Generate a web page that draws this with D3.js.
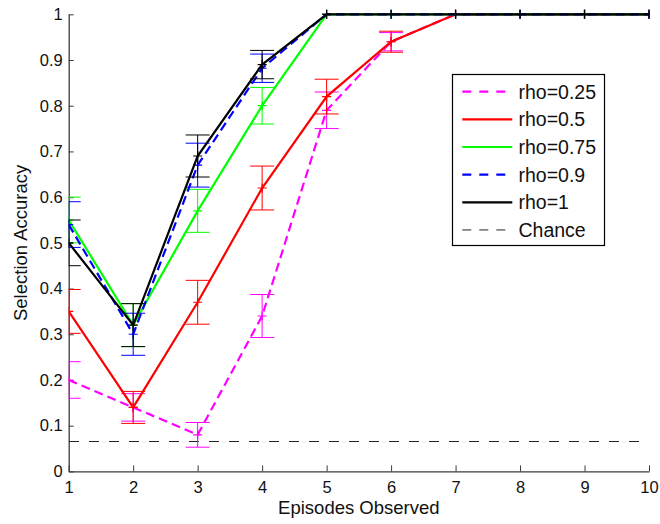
<!DOCTYPE html>
<html>
<head>
<meta charset="utf-8">
<script src="https://cdn.jsdelivr.net/npm/d3@7"></script>
<style>
  html, body { margin: 0; padding: 0; background: #fff; }
  svg { display: block; font-family: "Liberation Sans", Arial, Helvetica, sans-serif; }
</style>
</head>
<body>
<script>
// Episodes observed along the x axis
const episodes = [1, 2, 3, 4, 5, 6, 7, 8, 9, 10];

// Mean selection accuracy per condition
const rho025 = [0.20, 0.14, 0.08, 0.34, 0.79, 0.94, 1, 1, 1, 1];
const rho050 = [0.35, 0.14, 0.37, 0.62, 0.82, 0.94, 1, 1, 1, 1];
const rho075 = [0.55, 0.32, 0.57, 0.80, 1, 1, 1, 1, 1, 1];
const rho090 = [0.54, 0.30, 0.67, 0.882, 1, 1, 1, 1, 1, 1];
const rho100 = [0.50, 0.32, 0.69, 0.89, 1, 1, 1, 1, 1, 1];

// Standard errors (half-length of each error bar)
const err025 = [0.04, 0.03, 0.027, 0.047, 0.04, 0.02, 0, 0, 0, 0];
const err050 = [0.048, 0.035, 0.048, 0.048, 0.038, 0.023, 0, 0, 0, 0];
const err075 = [0.05, 0.047, 0.047, 0.04, 0, 0, 0, 0, 0, 0];
const err090 = [0.05, 0.046, 0.048, 0.031, 0, 0, 0, 0, 0, 0];
const err100 = [0.05, 0.047, 0.046, 0.031, 0, 0, 0, 0, 0, 0];

const chanceLevel = 1 / 15;

const seriesNames = ["rho=0.25", "rho=0.5", "rho=0.75", "rho=0.9", "rho=1"];
const seriesColors = ["#ff00ff", "#ff0000", "#00ff00", "#0000ff", "#000000"];
const seriesDashed = [true, false, false, true, false];
const seriesValues = [rho025, rho050, rho075, rho090, rho100];
const seriesErrors = [err025, err050, err075, err090, err100];

const xTicks = [1, 2, 3, 4, 5, 6, 7, 8, 9, 10];
const yTicks = [0, 0.1, 0.2, 0.3, 0.4, 0.5, 0.6, 0.7, 0.8, 0.9, 1];

const W = 660, H = 524;
const plot = { left: 68.7, right: 649, top: 14.3, bottom: 471.4 };

const x = d3.scaleLinear().domain([1, 10]).range([plot.left, plot.right]);
const y = d3.scaleLinear().domain([0, 1]).range([plot.bottom, plot.top]);

const svg = d3.select("body").append("svg").attr("width", W).attr("height", H);

svg.append("defs").append("clipPath").attr("id", "plotClip")
  .append("rect")
  .attr("x", plot.left).attr("y", 0)
  .attr("width", plot.right - plot.left + 1).attr("height", H);

const axisColor = "#3a3a3a";
const tickFont = "16.5px";

// Axes: inward ticks, no box
const xAxis = svg.append("g")
  .attr("transform", `translate(0,${plot.bottom})`)
  .call(d3.axisBottom(x).tickValues(xTicks).tickSizeInner(-6).tickSizeOuter(0).tickPadding(10).tickFormat(d3.format("d")));
const yAxis = svg.append("g")
  .attr("transform", `translate(${plot.left},0)`)
  .call(d3.axisLeft(y).tickValues(yTicks).tickSizeInner(-5).tickSizeOuter(0).tickPadding(6).tickFormat(d => d === 0 ? "0" : d === 1 ? "1" : d3.format(".1f")(d)));

[xAxis, yAxis].forEach(g => {
  g.select(".domain").attr("stroke", axisColor).attr("stroke-width", 1.3);
  g.selectAll(".tick line").attr("stroke", axisColor).attr("stroke-width", 1);
  g.selectAll(".tick text").attr("fill", "#111").style("font-size", tickFont)
    .style("font-family", "'Liberation Sans', Arial, sans-serif");
});
xAxis.selectAll(".tick text").attr("dy", "0.71em");

// Axis titles
svg.append("text")
  .attr("x", (plot.left + plot.right) / 2).attr("y", 514)
  .attr("text-anchor", "middle").attr("fill", "#111")
  .style("font-size", "18.5px")
  .text("Episodes Observed");
svg.append("text")
  .attr("transform", `translate(27,${(plot.top + plot.bottom) / 2}) rotate(-90)`)
  .attr("text-anchor", "middle").attr("fill", "#111")
  .style("font-size", "18.5px")
  .text("Selection Accuracy");

const chart = svg.append("g").attr("clip-path", "url(#plotClip)");

// Chance level reference line, snapped to the pixel grid so it stays crisp
const chanceY = Math.round(y(chanceLevel)) + 0.5;
chart.append("line")
  .attr("x1", x(1)).attr("x2", x(10))
  .attr("y1", chanceY).attr("y2", chanceY)
  .attr("stroke", "#222").attr("stroke-width", 1)
  .attr("shape-rendering", "crispEdges")
  .attr("stroke-dasharray", "10,10");

const line = d3.line().x((d, i) => x(episodes[i])).y(d => y(d));
const capHalf = 12;
const markHalf = 4.5;

seriesValues.forEach((vals, s) => {
  const g = chart.append("g");
  const col = seriesColors[s];
  g.append("path")
    .datum(vals)
    .attr("d", line)
    .attr("fill", "none")
    .attr("stroke", col)
    .attr("stroke-width", 2.2)
    .attr("stroke-dasharray", seriesDashed[s] ? "9,5" : null);

  const pts = vals.map((v, i) => ({ xv: episodes[i], v, e: seriesErrors[s][i] }));
  const bars = g.selectAll(".eb").data(pts).enter().append("g");
  // vertical whisker
  bars.filter(d => d.e > 0).append("line")
    .attr("x1", d => x(d.xv)).attr("x2", d => x(d.xv))
    .attr("y1", d => y(d.v - d.e)).attr("y2", d => y(d.v + d.e))
    .attr("stroke", col).attr("stroke-width", 1);
  // caps
  [-1, 1].forEach(sign => {
    bars.filter(d => d.e > 0).append("line")
      .attr("x1", d => x(d.xv) - capHalf).attr("x2", d => x(d.xv) + capHalf)
      .attr("y1", d => y(d.v + sign * d.e)).attr("y2", d => y(d.v + sign * d.e))
      .attr("stroke", col).attr("stroke-width", 1);
  });
  // "+" markers at the means
  bars.append("path")
    .attr("d", d => {
      const cx = x(d.xv), cy = y(d.v);
      return `M${cx - markHalf},${cy}H${cx + markHalf}M${cx},${cy - markHalf}V${cy + markHalf}`;
    })
    .attr("stroke", col).attr("stroke-width", 1.2);
});

// Legend
const legend = svg.append("g");
const lg = { x: 452.5, y: 74.5, w: 152, h: 171 };
legend.append("rect")
  .attr("x", lg.x).attr("y", lg.y).attr("width", lg.w).attr("height", lg.h)
  .attr("fill", "#fff").attr("stroke", "#000").attr("stroke-width", 1.2);

const legendItems = seriesNames.map((n, i) => ({ name: n, color: seriesColors[i], dash: seriesDashed[i] ? "9,8" : null, width: 2.2 }))
  .concat([{ name: "Chance", color: "#222", dash: "9,8", width: 1 }]);
const rowY0 = 91.7, rowStep = 27.65;
legendItems.forEach((it, i) => {
  const ry = rowY0 + i * rowStep;
  legend.append("line")
    .attr("x1", 462.3).attr("x2", 512.3).attr("y1", ry).attr("y2", ry)
    .attr("stroke", it.color).attr("stroke-width", it.width)
    .attr("stroke-dasharray", it.dash);
  legend.append("text")
    .attr("x", 518.5).attr("y", ry).attr("dy", "0.36em")
    .attr("fill", "#111").style("font-size", "19.5px")
    .text(it.name);
});
</script>
</body>
</html>
